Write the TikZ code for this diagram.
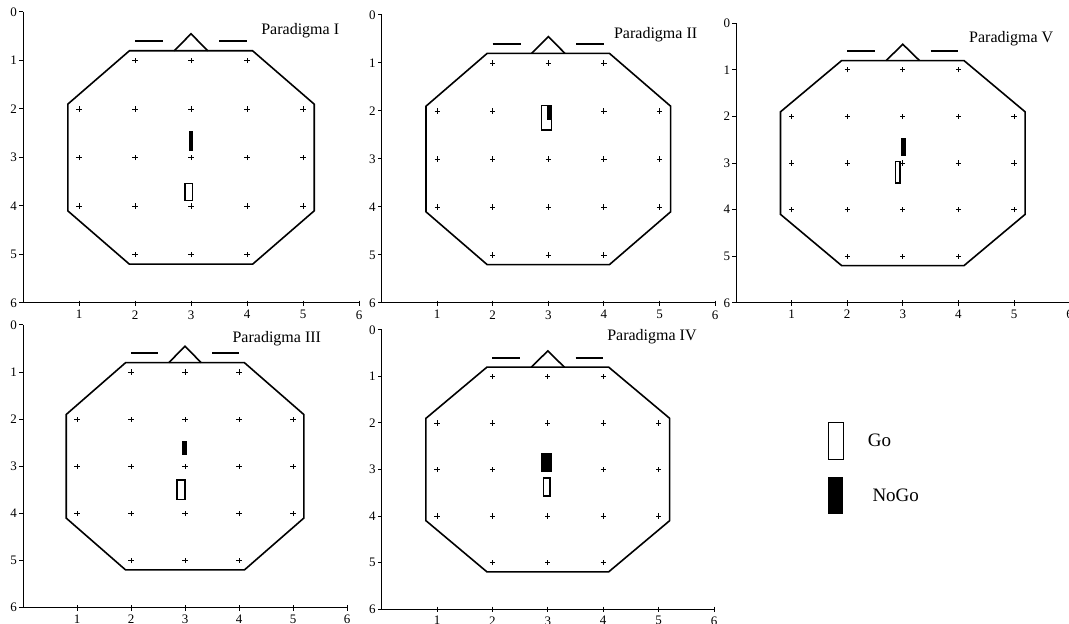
\documentclass[tikz,border=0pt]{standalone}
\usepackage{fontspec}
\setmainfont{Liberation Serif}
\usetikzlibrary{positioning}
\tikzset{
  axisline/.style={line width=0.5pt},
  headline/.style={line width=0.8pt, line join=miter},
  elec/.style={line width=0.45pt},
  ticklbl/.style={font=\fontsize{6.5}{7}\selectfont, inner sep=1pt},
  titlelbl/.style={font=\fontsize{8}{9}\selectfont, inner sep=0pt},
  keylbl/.style={font=\fontsize{9.5}{11}\selectfont, inner sep=0pt},
  gobox/.style={draw, line width=0.7pt, fill=white},
  nogobox/.style={fill=black},
  panel/.style n args={4}{shift={(#1,#2)}, x={(#3*0.5pt,0)}, y={(0,-#4*0.5pt)}}
}

\begin{document}
\begin{tikzpicture}[x=0.5pt, y=-0.5pt]
  \useasboundingbox (0,0) rectangle (1069,624);

  % head maps: axes, outline, nose, ears, electrodes
  \foreach \p/\ox/\oy/\ux/\uy/\tx/\ty/\ttl in {
      a/23/12/56/48.5/4.95/0.39/Paradigma I,
      b/381.5/15/55.6/48/4.93/0.42/Paradigma II,
      e/736/23.3/55.6/46.6/4.95/0.34/Paradigma V,
      c/23/325/54/47.1/4.70/0.28/Paradigma III,
      d/381.6/330/55.4/46.5/4.88/0.15/Paradigma IV} {
    \begin{scope}[panel={\ox}{\oy}{\ux}{\uy}]
      \draw[axisline] (0,0) -- (0,6) -- (6,6);
      \foreach \k in {0,...,6} {
        \draw[axisline] (0,\k) -- +(-1.8pt,0);
        \node[ticklbl, anchor=east, xshift=-1.8pt] (\p-y\k) at (0,\k) {\k};
      }
      \foreach \k in {1,...,6} {
        \draw[axisline] (\k,6) +(0,1.2pt) -- +(0,-1.5pt);
        \node[ticklbl, anchor=north, yshift=-2.5pt] (\p-x\k) at (\k,6) {\k};
      }
      \draw[headline] (1.9,0.8) -- (4.1,0.8) -- (5.2,1.9) -- (5.2,4.1)
        -- (4.1,5.2) -- (1.9,5.2) -- (0.8,4.1) -- (0.8,1.9) -- cycle;
      \draw[headline] (2.7,0.8) -- (3,0.45) -- (3.3,0.8);
      \draw[headline] (2,0.6) -- (2.5,0.6);
      \draw[headline] (3.5,0.6) -- (4,0.6);
      \foreach \ex/\ey in {2/1,3/1,4/1,1/2,2/2,3/2,4/2,5/2,1/3,2/3,3/3,4/3,5/3,
                           1/4,2/4,3/4,4/4,5/4,2/5,3/5,4/5}
        \draw[elec] (\ex,\ey) +(-1.3pt,0) -- +(1.3pt,0) +(0,-1.3pt) -- +(0,1.3pt);
      \node[titlelbl] (\p-title) at (\tx,\ty) {\ttl};
    \end{scope}
  }

  % Go / NoGo sources
  \begin{scope}[panel={23}{12}{56}{48.5}]
    \fill[nogobox] (2.96,2.46) rectangle (3.04,2.87);
    \draw[gobox] (2.89,3.53) rectangle (3.03,3.89);
  \end{scope}
  \begin{scope}[panel={381.5}{15}{55.6}{48}]
    \draw[gobox] (2.88,1.89) rectangle (3.06,2.40);
    \fill[nogobox] (2.97,1.89) rectangle (3.06,2.19);
  \end{scope}
  \begin{scope}[panel={736}{23.3}{55.6}{46.6}]
    \fill[nogobox] (2.96,2.47) rectangle (3.05,2.85);
    \draw[gobox] (2.87,2.97) rectangle (2.95,3.43);
  \end{scope}
  \begin{scope}[panel={23}{325}{54}{47.1}]
    \fill[nogobox] (2.95,2.46) rectangle (3.03,2.77);
    \draw[gobox] (2.85,3.29) rectangle (3.00,3.71);
  \end{scope}
  \begin{scope}[panel={381.6}{330}{55.4}{46.5}]
    \fill[nogobox] (2.87,2.65) rectangle (3.07,3.06);
    \draw[gobox] (2.92,3.18) rectangle (3.04,3.57);
  \end{scope}

  % legend
  \node[gobox, minimum width=7.5pt, minimum height=18.5pt, inner sep=0pt] (gokey) at (835.8,440.8) {};
  \node[keylbl, right=11.7pt of gokey] (golbl) {Go};
  \node[nogobox, minimum width=7.5pt, minimum height=18.8pt, inner sep=0pt] (nogokey) at (835.8,495.5) {};
  \node[keylbl, right=14.2pt of nogokey] (nogolbl) {NoGo};
\end{tikzpicture}
\end{document}
